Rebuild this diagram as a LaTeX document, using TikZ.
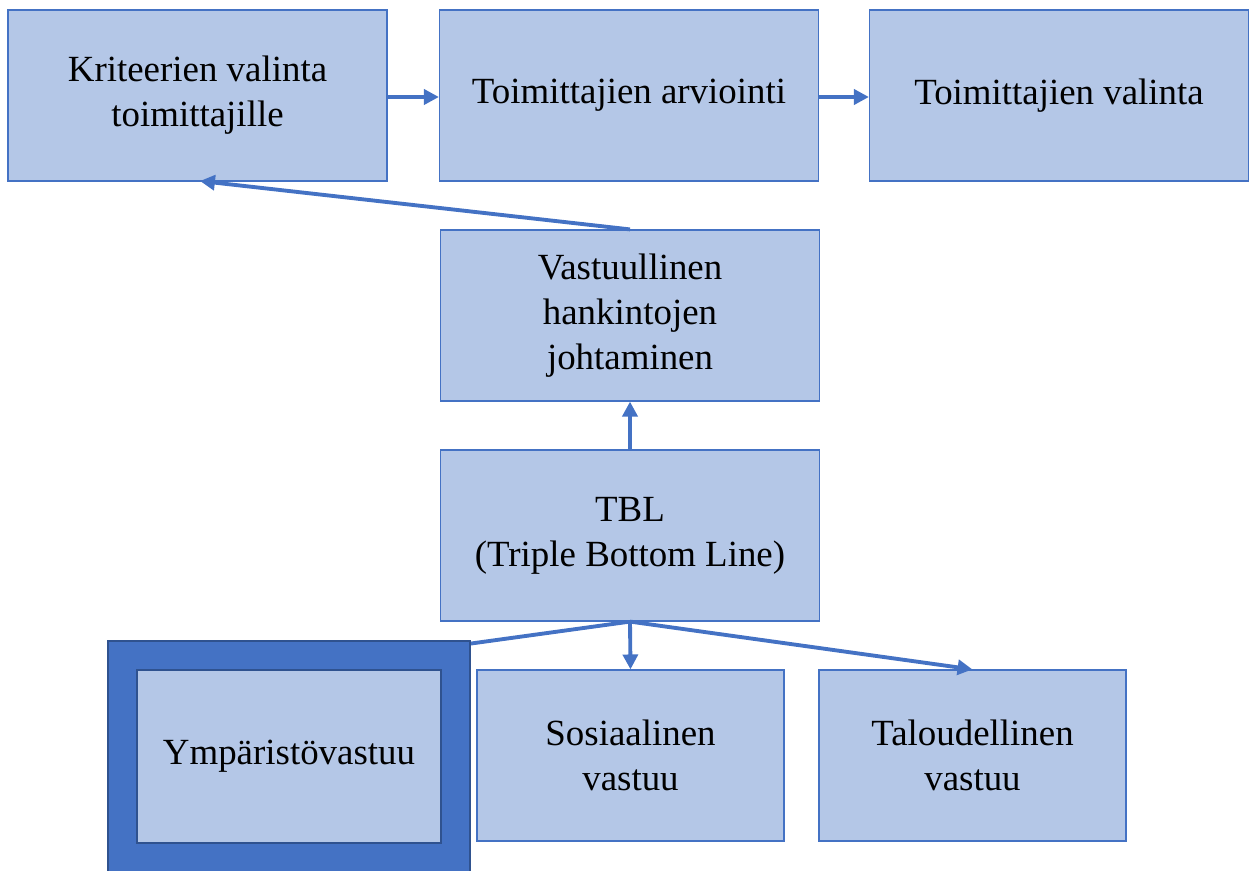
\documentclass[tikz,border=0pt]{standalone}
\usepackage{fontspec}
\setmainfont{Liberation Serif}
\usetikzlibrary{arrows.meta,backgrounds}
\definecolor{boxfill}{HTML}{B4C7E7}
\definecolor{boxline}{HTML}{4472C4}
\definecolor{darkline}{HTML}{2F528F}

\begin{document}
\begin{tikzpicture}[x=0.02cm,y=-0.02cm,
	box/.style={draw=boxline, fill=boxfill, line width=0.7pt, align=center, inner sep=0pt,
		font=\fontsize{21}{25.5}\selectfont},
	wide/.style={box, minimum width=7.58cm, minimum height=3.42cm},
	low/.style={box, minimum width=6.14cm, minimum height=3.42cm},
	conn/.style={draw=boxline, line width=2.2pt, -{Triangle[length=8.5pt,width=8.5pt]}}]
	\useasboundingbox (0,0) rectangle (1254,871);
	% top row
	\node[wide] (krit) at (197.5,95.5) {Kriteerien valinta\\toimittajille};
	\node[wide] (arv) at (629,95.5) {Toimittajien arviointi};
	\node[wide] (val) at (1059,95.5) {Toimittajien valinta};
	% middle column
	\node[wide] (vast) at (630,315.5) {Vastuullinen\\hankintojen\\johtaminen};
	\node[wide] (tbl) at (630,535.5) {TBL\\(Triple Bottom Line)};
	% bottom row
	\node[box, draw=darkline, line width=1.6pt, minimum width=6.08cm, minimum height=3.46cm]
		(ymp) at (289,756.5) {Ympäristövastuu};
	\node[low] (sos) at (630.5,755.5) {Sosiaalinen\\vastuu};
	\node[low] (tal) at (972.5,755.5) {Taloudellinen\\vastuu};
	\coordinate (kritin) at (200,181);

	\draw[conn] (krit.east |- 0,97) -- (arv.west |- 0,97);
	\draw[conn] (arv.east |- 0,97) -- (val.west |- 0,97);
	\draw[conn] (vast.north) -- (kritin);
	\draw[conn] (tbl.north) -- (vast.south);
	\draw[conn] (tbl.south) -- (sos.north);
	\draw[conn] (tbl.south) -- (tal.north);
	\begin{pgfonlayer}{background}
		\draw[conn] (tbl.south) -- (ymp.north);
		\filldraw[fill=boxline, draw=darkline, line width=0.8pt] (108,641) rectangle (470,880);
	\end{pgfonlayer}
\end{tikzpicture}
\end{document}
